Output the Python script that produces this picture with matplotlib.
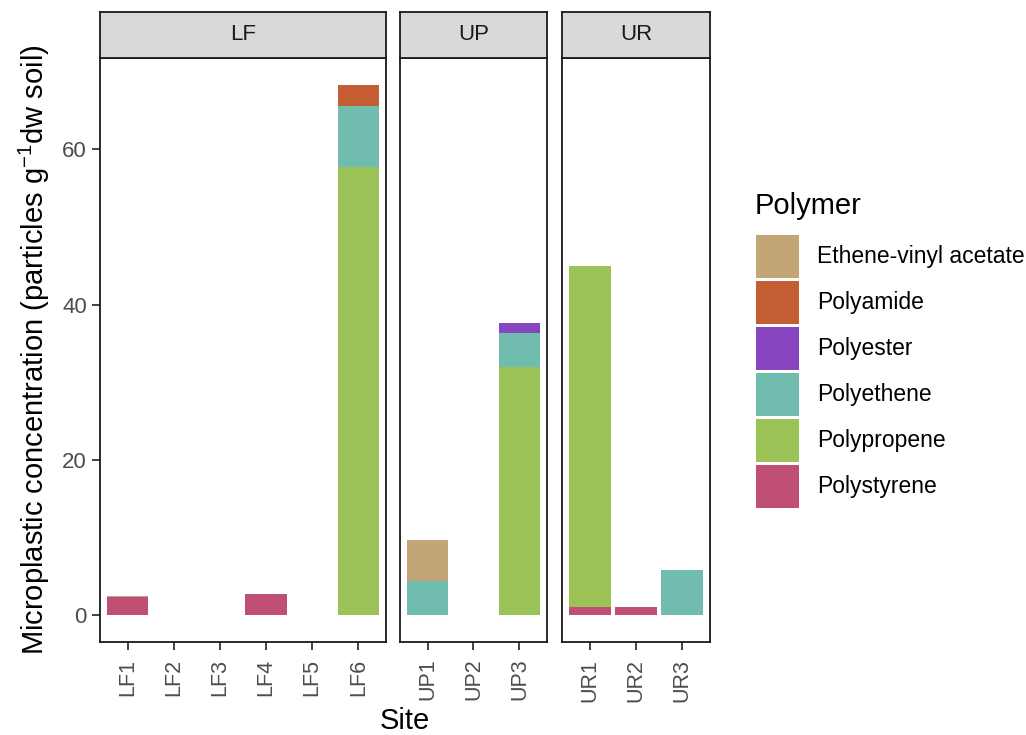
import matplotlib
matplotlib.use('Agg')
import matplotlib.pyplot as plt
from matplotlib.patches import Patch
import numpy as np

plt.rcParams['font.family'] = ['Liberation Sans', 'DejaVu Sans']
plt.rcParams['mathtext.fontset'] = 'custom'
plt.rcParams['mathtext.rm'] = 'Liberation Sans'
plt.rcParams['mathtext.it'] = 'Liberation Sans:italic'

# dati
panels = ['LF', 'UP', 'UR']
sites = {
    'LF': ['LF1', 'LF2', 'LF3', 'LF4', 'LF5', 'LF6'],
    'UP': ['UP1', 'UP2', 'UP3'],
    'UR': ['UR1', 'UR2', 'UR3'],
}
polymers = ['Ethene-vinyl acetate', 'Polyamide', 'Polyester',
            'Polyethene', 'Polypropene', 'Polystyrene']
colors = ['#C4A575', '#C45E32', '#8746BF', '#70BCAE', '#9AC256', '#BF5074']

#            LF1  LF2  LF3  LF4  LF5  LF6   UP1  UP2  UP3   UR1  UR2  UR3
eva =         [0.1, 0,   0,   0,   0,   0,    5.2, 0,   0,    0,   0,   0]
polyamide =   [0,   0,   0,   0,   0,   2.75, 0,   0,   0,    0,   0,   0]
polyester =   [0,   0,   0,   0,   0,   0,    0,   0,   1.2,  0,   0,   0]
polyethene =  [0,   0,   0,   0,   0,   7.9,  4.5, 0,   4.4,  0,   0,   5.9]
polypropene = [0,   0,   0,   0,   0,   57.7, 0,   0,   32.0, 43.9, 0,  0]
polystyrene = [2.35, 0,  0,   2.8, 0,   0,    0,   0,   0,    1.1, 1.1, 0]

values = {
    'Ethene-vinyl acetate': eva,
    'Polyamide': polyamide,
    'Polyester': polyester,
    'Polyethene': polyethene,
    'Polypropene': polypropene,
    'Polystyrene': polystyrene,
}

W, H = 1026, 735
fig = plt.figure(figsize=(W / 100, H / 100), dpi=100)

def px(x0, y0, x1, y1):
    return [x0 / W, 1 - y1 / H, (x1 - x0) / W, (y1 - y0) / H]

panel_x = {'LF': (100, 386), 'UP': (400, 547), 'UR': (562, 710)}

all_sites = sites['LF'] + sites['UP'] + sites['UR']
totals = np.sum([values[p] for p in polymers], axis=0)
ymax = totals.max()
ylim = (-0.05 * ymax, ymax * 1.05)

for panel in panels:
    x0, x1 = panel_x[panel]
    ax = fig.add_axes(px(x0, 58, x1, 642))
    st = fig.add_axes(px(x0, 12, x1, 58))

    idx = [all_sites.index(s) for s in sites[panel]]
    x = np.arange(len(idx))
    # stack: ultimo polimero in basso
    bottom = np.zeros(len(idx))
    for p, c in zip(polymers[::-1], colors[::-1]):
        v = np.array([values[p][i] for i in idx])
        ax.bar(x, v, width=0.9, bottom=bottom, color=c, edgecolor='none')
        bottom += v

    ax.set_xlim(-0.6, len(idx) - 0.4)
    ax.set_ylim(*ylim)
    ax.set_xticks(x)
    ax.set_xticklabels(sites[panel], rotation=90, fontsize=15.5, color='#4D4D4D')
    ax.set_yticks([0, 20, 40, 60])
    ax.tick_params(axis='x', length=6, width=1.3, color='#333333', pad=6)
    if panel == 'LF':
        ax.set_yticklabels(['0', '20', '40', '60'], fontsize=16, color='#4D4D4D')
        ax.tick_params(axis='y', length=6, width=1.3, color='#333333', pad=3.5)
    else:
        ax.set_yticklabels([])
        ax.tick_params(axis='y', length=0)
    for s in ax.spines.values():
        s.set_linewidth(1.3)
        s.set_color('#1A1A1A')

    st.set_facecolor('#D9D9D9')
    st.set_xticks([])
    st.set_yticks([])
    for s in st.spines.values():
        s.set_linewidth(1.3)
        s.set_color('#1A1A1A')
    st.text(0.5, 0.5, panel, ha='center', va='center', fontsize=16,
            color='#1A1A1A', transform=st.transAxes)

fig.text(405 / W, 1 - 721 / H, 'Site', ha='center', va='center', fontsize=21)
fig.text(34 / W, 1 - 350 / H,
         'Microplastic concentration (particles g$^{-1}$dw soil)',
         rotation=90, ha='center', va='center', fontsize=21)

# legenda
fig.text(755 / W, 1 - 214 / H, 'Polymer', ha='left', va='baseline', fontsize=21)
handles = [Patch(facecolor=c, edgecolor='none') for c in colors]
fig.legend(handles, polymers, loc='upper left',
           bbox_to_anchor=(756 / W, 1 - 235 / H), frameon=False,
           fontsize=16.5, handlelength=1.88, handleheight=2.51,
           labelspacing=0.13, handletextpad=0.79, borderpad=0,
           borderaxespad=0)

fig.savefig('out.png', dpi=100)
